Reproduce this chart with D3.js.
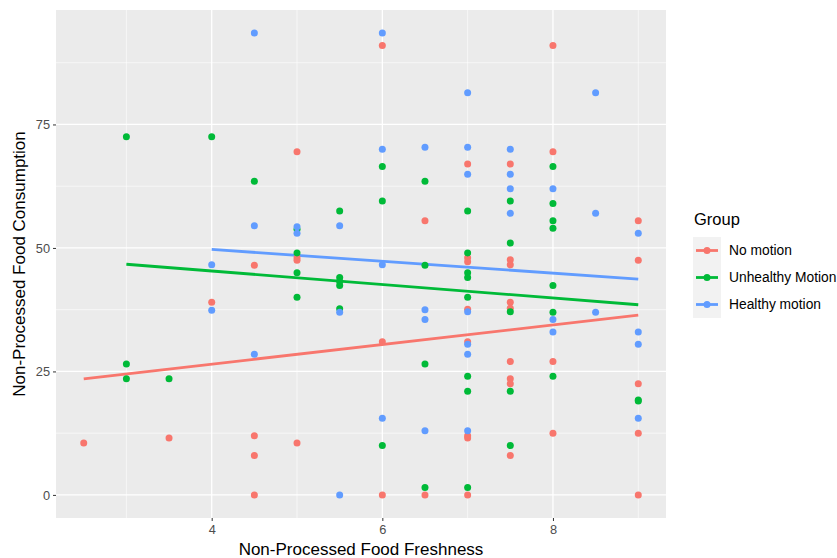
<!DOCTYPE html>
<html>
<head>
<meta charset="utf-8">
<script src="https://cdn.jsdelivr.net/npm/d3@7"></script>
<style>
  body { margin: 0; background: #fff; }
  svg text { font-family: "Liberation Sans", Arial, sans-serif; }
</style>
</head>
<body>
<svg width="837" height="558"></svg>
<script>
// data
var groups = ["No motion", "Unhealthy Motion", "Healthy motion"];
var colors = ["#F8766D", "#00BA38", "#619CFF"];

var noMotionX = [2.5, 3.5, 4, 4.5, 4.5, 4.5, 4.5, 5, 5, 5, 5, 6, 6, 6, 6.5, 6.5,
  7, 7, 7, 7, 7, 7, 7, 7, 7.5, 7.5, 7.5, 7.5, 7.5, 7.5, 7.5, 7.5, 7.5,
  8, 8, 8, 8, 9, 9, 9, 9, 9];
var noMotionY = [10.5, 11.5, 39, 46.5, 12, 8, 0, 69.5, 48, 47.5, 10.5, 91, 31, 0, 55.5, 0,
  67, 48, 47.2, 37.6, 31, 12, 11.5, 0, 67, 47.6, 46.6, 39, 37.8, 27, 23.5, 22.5, 8,
  91, 69.5, 27, 12.5, 55.5, 47.5, 22.5, 12.5, 0];

var unhealthyX = [3, 3, 3, 3.5, 4, 4.5, 5, 5, 5, 5, 5.5, 5.5, 5.5, 5.5, 5.5,
  6, 6, 6, 6.5, 6.5, 6.5, 6.5, 7, 7, 7, 7, 7, 7, 7, 7,
  7.5, 7.5, 7.5, 7.5, 7.5, 8, 8, 8, 8, 8, 8, 8, 9, 9];
var unhealthyY = [72.5, 26.5, 23.5, 23.5, 72.5, 63.5, 53.8, 49, 45, 40, 57.5, 44, 43.2, 42.4, 37.7,
  66.5, 59.5, 10, 63.5, 46.5, 26.5, 1.5, 57.5, 49, 45, 44, 40, 24, 21, 1.5,
  59.5, 51, 37.1, 21, 10, 66.5, 59, 55.5, 54, 42.4, 37, 24, 19, 19.2];

var healthyX = [4, 4, 4.5, 4.5, 4.5, 5, 5, 5.5, 5.5, 5.5, 6, 6, 6, 6,
  6.5, 6.5, 6.5, 6.5, 7, 7, 7, 7, 7, 7, 7, 7.5, 7.5, 7.5, 7.5,
  8, 8, 8, 8.5, 8.5, 8.5, 9, 9, 9, 9];
var healthyY = [46.6, 37.4, 93.5, 54.5, 28.5, 54.3, 53, 54.5, 37, 0, 93.5, 70, 46.6, 15.5,
  70.4, 37.5, 35.5, 13, 81.4, 70.4, 64.9, 37.1, 30.5, 28.5, 13, 70, 64.9, 62, 57,
  62, 35.5, 33, 81.4, 57, 37, 53, 33, 30.5, 15.5];

// fitted lines (lm), start and end
var fitX = [[2.5, 9], [3, 9], [4, 9]];
var fitY = [[23.5, 36.4], [46.7, 38.5], [49.7, 43.7]];

var xTicks = [4, 6, 8];
var yTicks = [0, 25, 50, 75];

var svg = d3.select("svg");
var panel = {left: 56, right: 666, top: 10, bottom: 518};

var x = d3.scaleLinear().domain([2.175, 9.325]).range([panel.left, panel.right]);
var y = d3.scaleLinear().domain([-4.675, 98.175]).range([panel.bottom, panel.top]);

// panel background
svg.append("rect")
  .attr("x", panel.left).attr("y", panel.top)
  .attr("width", panel.right - panel.left)
  .attr("height", panel.bottom - panel.top)
  .attr("fill", "#EBEBEB");

// minor grid
var xMinor = [3, 5, 7, 9];
var yMinor = [12.5, 37.5, 62.5, 87.5];
var grid = svg.append("g");
grid.selectAll(".xm").data(xMinor).enter().append("line")
  .attr("x1", d => x(d)).attr("x2", d => x(d))
  .attr("y1", panel.top).attr("y2", panel.bottom)
  .attr("stroke", "#fff").attr("stroke-width", 0.6);
grid.selectAll(".ym").data(yMinor).enter().append("line")
  .attr("y1", d => y(d)).attr("y2", d => y(d))
  .attr("x1", panel.left).attr("x2", panel.right)
  .attr("stroke", "#fff").attr("stroke-width", 0.6);
// major grid
grid.selectAll(".xM").data(xTicks).enter().append("line")
  .attr("x1", d => x(d)).attr("x2", d => x(d))
  .attr("y1", panel.top).attr("y2", panel.bottom)
  .attr("stroke", "#fff").attr("stroke-width", 1.3);
grid.selectAll(".yM").data(yTicks).enter().append("line")
  .attr("y1", d => y(d)).attr("y2", d => y(d))
  .attr("x1", panel.left).attr("x2", panel.right)
  .attr("stroke", "#fff").attr("stroke-width", 1.3);

// axes
var xAxis = svg.append("g")
  .attr("transform", "translate(0," + panel.bottom + ")")
  .call(d3.axisBottom(x).tickValues(xTicks).tickSize(3).tickPadding(4));
var yAxis = svg.append("g")
  .attr("transform", "translate(" + panel.left + ",0)")
  .call(d3.axisLeft(y).tickValues(yTicks).tickSize(3).tickPadding(3));
[xAxis, yAxis].forEach(function (a) {
  a.select(".domain").remove();
  a.selectAll(".tick line").attr("stroke", "#333").attr("stroke-width", 1);
  a.selectAll(".tick text")
    .attr("fill", "#4D4D4D")
    .style("font-size", "12.8px")
    .style("font-family", "'Liberation Sans', Arial, sans-serif");
});

// points
var series = [
  {xs: noMotionX, ys: noMotionY},
  {xs: unhealthyX, ys: unhealthyY},
  {xs: healthyX, ys: healthyY}
];

var lineGen = d3.line().x(d => x(d[0])).y(d => y(d[1]));
series.forEach(function (s, i) {
  var pts = [[fitX[i][0], fitY[i][0]], [fitX[i][1], fitY[i][1]]];
  svg.append("path")
    .attr("d", lineGen(pts))
    .attr("stroke", colors[i])
    .attr("stroke-width", 2.8)
    .attr("fill", "none");
});

series.forEach(function (s, i) {
  svg.append("g").selectAll("circle")
    .data(s.xs.map((v, j) => [v, s.ys[j]]))
    .enter().append("circle")
    .attr("cx", d => x(d[0]))
    .attr("cy", d => y(d[1]))
    .attr("r", 3.5)
    .attr("fill", colors[i]);
});

// axis titles
svg.append("text")
  .attr("x", (panel.left + panel.right) / 2)
  .attr("y", 555)
  .attr("text-anchor", "middle")
  .style("font-size", "17px")
  .attr("fill", "#000")
  .text("Non-Processed Food Freshness");

svg.append("text")
  .attr("transform", "translate(25," + (panel.top + panel.bottom) / 2 + ") rotate(-90)")
  .attr("text-anchor", "middle")
  .style("font-size", "17px")
  .attr("fill", "#000")
  .text("Non-Processed Food Consumption");

// legend
var legend = svg.append("g").attr("transform", "translate(693,237)");
legend.append("text")
  .attr("x", 1).attr("y", -12)
  .style("font-size", "16.5px")
  .text("Group");
var keyH = 27;
var keys = legend.selectAll(".key").data(groups).enter().append("g")
  .attr("transform", (d, i) => "translate(0," + i * keyH + ")");
keys.append("rect")
  .attr("width", 28).attr("height", keyH)
  .attr("fill", "#F2F2F2");
keys.append("line")
  .attr("x1", 3).attr("x2", 25)
  .attr("y1", keyH / 2).attr("y2", keyH / 2)
  .attr("stroke", (d, i) => colors[i])
  .attr("stroke-width", 2.8);
keys.append("circle")
  .attr("cx", 14).attr("cy", keyH / 2).attr("r", 3.5)
  .attr("fill", (d, i) => colors[i]);
keys.append("text")
  .attr("x", 36).attr("y", keyH / 2 + 4.7)
  .style("font-size", "13.8px")
  .attr("fill", "#000")
  .text(d => d);
</script>
</body>
</html>
